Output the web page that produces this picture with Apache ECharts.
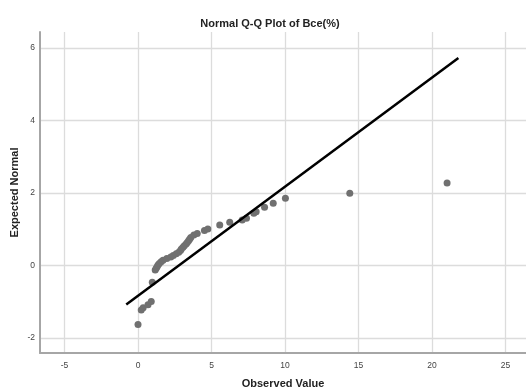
<!DOCTYPE html>
<html><head><meta charset="utf-8">
<script src="https://cdn.jsdelivr.net/npm/echarts@6/dist/echarts.min.js"></script>
<style>html,body{margin:0;padding:0;background:#fff}#c{width:526px;height:392px}</style>
</head><body><div id="c"></div>
<script>
const title = "Normal Q-Q Plot of Bce(%)";
const xName = "Observed Value";
const yName = "Expected Normal";
const xTicks = [-5, 0, 5, 10, 15, 20, 25];
const yTicks = [-2, 0, 2, 4, 6];
const observed = [0, 0.22, 0.35, 0.68, 0.9, 0.97,
  1.17, 1.24, 1.30, 1.36, 1.45, 1.57, 1.70, 1.96, 2.23, 2.40, 2.60, 2.77, 2.89, 2.95, 3.06, 3.15, 3.27, 3.35, 3.44, 3.51, 3.59,
  3.80, 4.03, 4.52, 4.75, 5.56, 6.24, 7.09, 7.38, 7.88, 8.04, 8.61, 9.20, 10.03, 14.41, 21.03];
const expected = [-1.63, -1.23, -1.17, -1.09, -1.0, -0.47,
  -0.13, -0.08, -0.04, 0.01, 0.05, 0.10, 0.14, 0.19, 0.23, 0.27, 0.32, 0.36, 0.41, 0.45, 0.50, 0.54, 0.59, 0.63, 0.68, 0.72, 0.77,
  0.84, 0.88, 0.96, 1.00, 1.11, 1.19, 1.25, 1.30, 1.44, 1.48, 1.60, 1.71, 1.85, 1.99, 2.27];
const refLineX = [-0.8, 21.8];
const refLineY = [-1.08, 5.72];

const pts = observed.map((v, i) => [v, expected[i]]);
const linePts = refLineX.map((v, i) => [v, refLineY[i]]);
const font = '"Liberation Sans", Arial, sans-serif';
const chart = echarts.init(document.getElementById('c'), null, {renderer: 'canvas'});
chart.setOption({
  animation: false,
  backgroundColor: '#fff',
  title: {text: title, left: 265, top: 13, textAlign: 'center',
    textStyle: {fontFamily: font, fontSize: 11, fontWeight: 'bold', color: '#222'}},
  grid: {left: 40, top: 32, right: 0, bottom: 39, containLabel: false, outerBoundsMode: 'none'},
  xAxis: {type: 'value', min: -6.67, max: 26.4,
    name: xName, nameLocation: 'middle', nameGap: 25, nameMoveOverlap: false,
    nameTextStyle: {fontFamily: font, fontSize: 11, fontWeight: 'bold', color: '#222'},
    axisLine: {onZero: false, lineStyle: {color: '#a6a6a6', width: 2}},
    axisTick: {show: false, customValues: xTicks},
    axisLabel: {customValues: xTicks, fontFamily: font, fontSize: 8.5, color: '#444', margin: 8},
    splitLine: {show: true, lineStyle: {color: '#dcdcdc', width: 1.3}}},
  yAxis: {type: 'value', min: -2.42, max: 6.44,
    name: yName, nameLocation: 'middle', nameGap: 20, nameRotate: 90, nameMoveOverlap: false,
    nameTextStyle: {fontFamily: font, fontSize: 11, fontWeight: 'bold', color: '#222'},
    axisLine: {show: true, onZero: false, lineStyle: {color: '#a6a6a6', width: 2}},
    axisTick: {show: false, customValues: yTicks},
    axisLabel: {customValues: yTicks, fontFamily: font, fontSize: 8.5, color: '#444', margin: 5},
    splitLine: {show: true, lineStyle: {color: '#dcdcdc', width: 1.3}}},
  series: [
    {type: 'line', data: linePts, symbol: 'none', lineStyle: {color: '#000', width: 2.5}, z: 3},
    {type: 'scatter', data: pts, symbolSize: 7, itemStyle: {color: '#707070', opacity: 1}, z: 2}
  ]
});
</script></body></html>
